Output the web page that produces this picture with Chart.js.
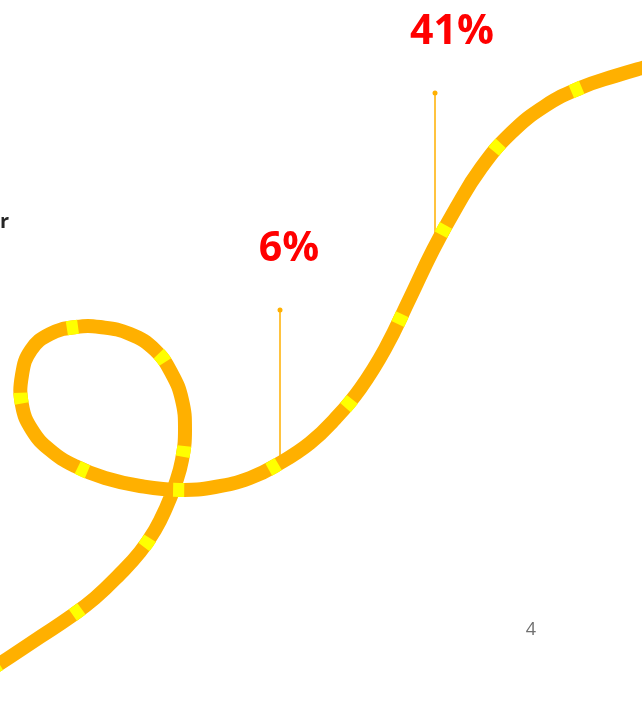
<!DOCTYPE html>
<html>
<head>
<meta charset="utf-8">
<script src="https://cdn.jsdelivr.net/npm/chart.js@4/dist/chart.umd.min.js"></script>
<style>
  html, body { margin: 0; padding: 0; background: #fff; }
  #wrap { width: 642px; height: 710px; position: relative; }
</style>
</head>
<body>
<div id="wrap"><canvas id="slide"></canvas></div>
<script>
// path of the ribbon, in slide units (x 0-642, y 0-710 from the top)
var pathX = [-10, 10, 40, 70, 95, 120, 140, 155, 166, 175, 182, 185, 182, 172, 155, 130, 100, 76, 50, 31, 22, 22, 32, 50, 75, 105, 140, 180, 215, 250, 280, 310, 335, 360, 385, 410, 433, 456, 481, 511, 545, 580, 615, 652];
var pathY = [670, 657, 637, 617, 598, 574, 552, 530, 508, 485, 460, 430, 400, 374, 350, 334, 327, 327, 334, 350, 375, 405, 430, 450, 466, 478, 486, 490, 487, 478, 463, 443, 419, 389, 349, 298, 250, 208, 168, 133, 106, 88, 76, 65];

// callouts
var calloutLabels = ['6%', '41%'];
var calloutX = [280, 435];
var calloutTop = [310, 93];
var calloutBase = [458, 240];

function toPoints(xs, ys) {
    return xs.map(function(x, i) { return { x: x, y: ys[i] }; });
}

var datasets = [{
    data: toPoints(pathX, pathY),
    showLine: true,
    borderColor: '#FFFF00',
    borderWidth: 14,
    tension: 0.45,
    pointRadius: 0,
    borderDash: [11, 88],
    borderDashOffset: 0,
    borderCapStyle: 'butt',
    order: 0
}, {
    data: toPoints(pathX, pathY),
    showLine: true,
    borderColor: '#FFB000',
    borderWidth: 14,
    tension: 0.45,
    pointRadius: 0,
    borderCapStyle: 'butt',
    order: 1
}];

calloutX.forEach(function(x, i) {
    datasets.push({
        data: [{ x: x, y: calloutTop[i] }, { x: x, y: calloutBase[i] }],
        showLine: true,
        borderColor: '#FFB000',
        borderWidth: 1.5,
        pointRadius: [2.5, 0],
        pointBackgroundColor: '#FFB000',
        pointBorderWidth: 0,
        order: 2
    });
});

// texts of the slide
var labelShift = [9, 17];
var slideText = {
    id: 'slideText',
    afterDraw: function(chart) {
        var ctx = chart.ctx;
        var xs = chart.scales.x, ys = chart.scales.y;
        ctx.save();
        ctx.textAlign = 'center';
        ctx.textBaseline = 'alphabetic';
        ctx.fillStyle = '#FF0000';
        ctx.font = 'bold 41px "Open Sans", "Noto Sans", sans-serif';
        calloutLabels.forEach(function(label, i) {
            ctx.fillText(label, xs.getPixelForValue(calloutX[i]) + labelShift[i], ys.getPixelForValue(calloutTop[i]) - 49);
        });
        ctx.textAlign = 'left';
        ctx.fillStyle = '#262626';
        ctx.font = 'bold 20px "Open Sans", "Noto Sans", sans-serif';
        ctx.fillText('r', 0, 228);
        ctx.fillStyle = '#707070';
        ctx.font = '18px "Open Sans", "Noto Sans", sans-serif';
        ctx.textAlign = 'center';
        ctx.fillText('4', 531, 635);
        ctx.restore();
    }
};

new Chart(document.getElementById('slide'), {
    type: 'scatter',
    data: { datasets: datasets },
    options: {
        responsive: true,
        maintainAspectRatio: false,
        animation: false,
        layout: { padding: 0, autoPadding: false },
        scales: {
            x: { type: 'linear', min: 0, max: 642, display: false },
            y: { type: 'linear', min: 0, max: 710, reverse: true, display: false }
        },
        plugins: {
            legend: { display: false },
            tooltip: { enabled: false }
        }
    },
    plugins: [slideText]
});
</script>
</body>
</html>
